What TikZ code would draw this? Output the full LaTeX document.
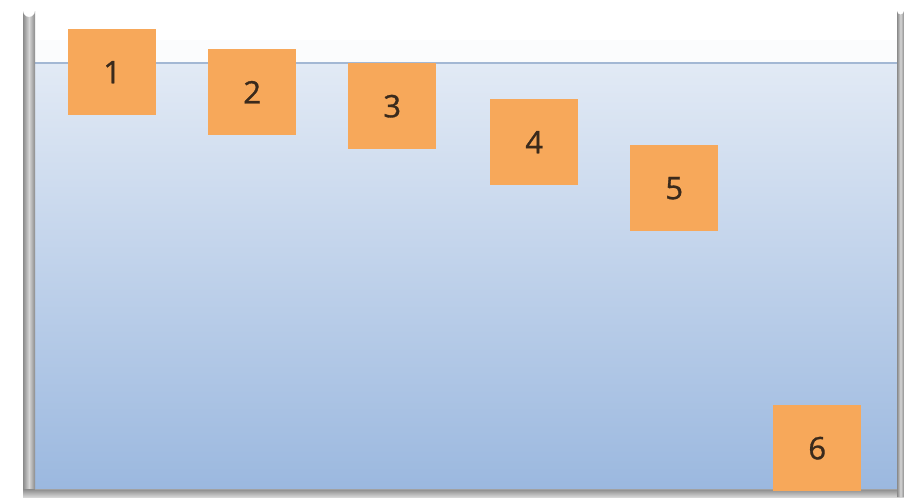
\documentclass[tikz,border=0pt]{standalone}
\usepackage{fontspec}
\setmainfont{Open Sans}
\definecolor{boxorange}{HTML}{F7A85A}
\definecolor{digit}{HTML}{3A2A1C}
\definecolor{waterTop}{HTML}{E2EAF5}
\definecolor{waterBot}{HTML}{9BB8DF}
\definecolor{surf}{HTML}{A3B8D4}
\definecolor{wallDark}{HTML}{8A8A8A}
\definecolor{wallLight}{HTML}{D6D6D6}
\begin{document}
\begin{tikzpicture}[x=1pt,y=-1pt,
  box/.style={fill=boxorange, minimum width=88pt, minimum height=86pt, inner sep=0pt,
    font=\fontsize{31}{31}\selectfont\addfontfeature{FakeBold=1}, text=digit, anchor=north west},
  wallv/.style={left color=wallDark, right color=wallDark, middle color=wallLight}]
\useasboundingbox (0,0) rectangle (904,498);
\fill[white] (0,0) rectangle (904,498);
% water
\shade[top color=waterTop, bottom color=waterBot] (34,63) rectangle (898,490);
\fill[white!85!waterTop] (34,40) rectangle (898,63);
\draw[surf, line width=1.5pt] (34,63) -- (898,63);
% walls
\shade[wallv] (23,11) arc[start angle=180, end angle=0, radius=6] -- (35,496) -- (23,496) -- cycle;
\shade[top color=wallDark, bottom color=wallLight] (23,489) rectangle (904,497);
\shade[wallv] (897,11) arc[start angle=180, end angle=0, radius=3.5] -- (904,497) -- (897,497) -- cycle;
\draw[wallDark!80, line width=0.8pt] (35,489) -- (897,489);
% boxes
\node[box] (b1) at (68,29) {1};
\node[box] (b2) at (208,49) {2};
\node[box] (b3) at (348,63) {3};
\node[box] (b4) at (490,99) {4};
\node[box] (b5) at (630,145) {5};
\node[box] (b6) at (773,405) {6};
\end{tikzpicture}
\end{document}
